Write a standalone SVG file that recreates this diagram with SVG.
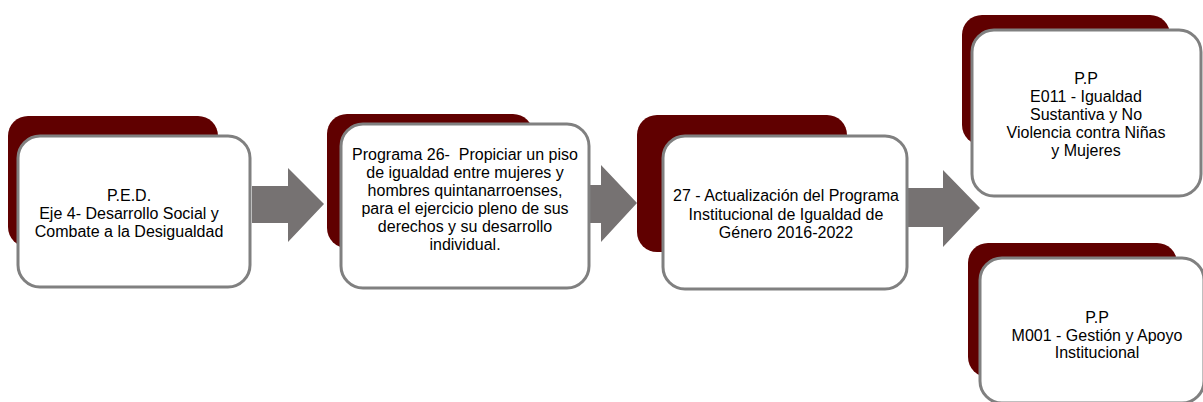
<svg xmlns="http://www.w3.org/2000/svg" width="1203" height="402" viewBox="0 0 1203 402">
<style>
.back{fill:#600000;}
.front{fill:#ffffff;stroke:#808080;stroke-width:3;}
.arrow{fill:#767272;}
text{font-family:"Liberation Sans",Arial,sans-serif;font-size:16px;fill:#000000;text-anchor:middle;}
</style>
<rect width="1203" height="402" fill="#ffffff"/>
<g id="connectors">
<polygon class="arrow" points="252,186 288,186 288,168 324,204 288,242 288,223 252,223"/>
<polygon class="arrow" points="588,185 601,185 601,165 637,203 601,242 601,223 588,223"/>
<polygon class="arrow" points="908,188 943,188 943,170 980,208 943,247 943,227 908,227"/>
</g>
<g id="node1">
<rect class="back" x="8" y="116" width="210" height="131" rx="20"/>
<rect class="front" x="18" y="136" width="232" height="151" rx="22"/>
<text x="129" y="201">P.E.D.</text>
<text x="129" y="219">Eje 4- Desarrollo Social y</text>
<text x="129" y="237">Combate a la Desigualdad</text>
</g>
<g id="node2">
<rect class="back" x="327" y="114" width="206" height="134" rx="20"/>
<rect class="front" x="341" y="124" width="248" height="164" rx="22"/>
<text x="465" y="160" xml:space="preserve">Programa 26-  Propiciar un piso</text>
<text x="465" y="178">de igualdad entre mujeres y</text>
<text x="465" y="196">hombres quintanarroenses,</text>
<text x="465" y="214">para el ejercicio pleno de sus</text>
<text x="465" y="232">derechos y su desarrollo</text>
<text x="465" y="250">individual.</text>
</g>
<g id="node3">
<rect class="back" x="637" y="115" width="210" height="137" rx="20"/>
<rect class="front" x="663" y="136" width="244" height="153" rx="22"/>
<text x="786" y="201">27 - Actualización del Programa</text>
<text x="786" y="220">Institucional de Igualdad de</text>
<text x="786" y="238">Género 2016-2022</text>
</g>
<g id="node4">
<rect class="back" x="962" y="15" width="208" height="130" rx="20"/>
<rect class="front" x="972" y="30" width="229" height="166" rx="22"/>
<text x="1086" y="84">P.P</text>
<text x="1086" y="102">E011 - Igualdad</text>
<text x="1086" y="120">Sustantiva y No</text>
<text x="1086" y="138">Violencia contra Niñas</text>
<text x="1086" y="156">y Mujeres</text>
</g>
<g id="node5">
<rect class="back" x="968" y="243" width="209" height="134" rx="20"/>
<rect class="front" x="980" y="258" width="224" height="145" rx="22"/>
<text x="1097" y="323">P.P</text>
<text x="1097" y="341">M001 - Gestión y Apoyo</text>
<text x="1097" y="358">Institucional</text>
</g>
</svg>
